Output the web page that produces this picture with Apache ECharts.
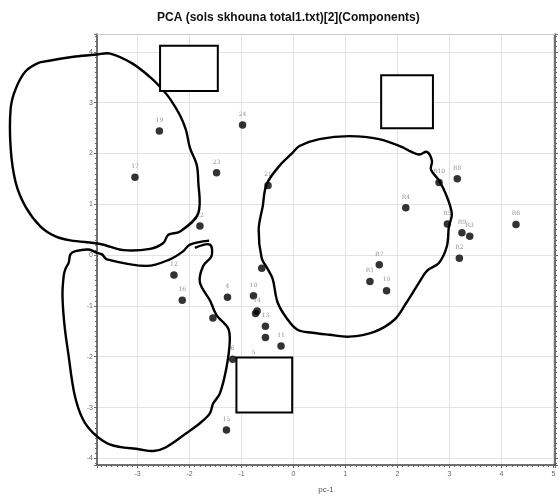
<!DOCTYPE html>
<html>
<head>
<meta charset="utf-8">
<script src="https://cdn.jsdelivr.net/npm/echarts@6/dist/echarts.min.js"></script>
<style>
  html, body { margin: 0; padding: 0; background: #fff; }
  #pca { width: 560px; height: 499px; }
</style>
</head>
<body>
<div id="pca"></div>
<script>
// sample scores on pc-1 / pc-2
var pointLabels = ['19','24','17','23','21','22','12','16','','4','10','14','','13','','11','7','6','5','15',
                   'R8','R10','R4','R5','R9','R3','R6','R2','R7','R1','10'];
var pc1 = [-2.58,-0.98,-3.05,-1.48,-0.49,-1.80,-2.30,-2.14,-0.61,-1.27,-0.77,-0.70,-0.73,-0.54,-0.54,-0.24,-1.55,-1.17,-0.77,-1.29,
           3.15,2.80,2.16,2.96,3.24,3.39,4.28,3.19,1.65,1.47,1.79];
var pc2 = [2.44,2.56,1.53,1.62,1.37,0.57,-0.39,-0.89,-0.26,-0.83,-0.80,-1.10,-1.15,-1.40,-1.62,-1.79,-1.24,-2.05,-2.13,-3.44,
           1.50,1.43,0.93,0.61,0.44,0.37,0.60,-0.06,-0.19,-0.52,-0.70];

// hand drawn annotations (data coords)
var loopTopLeft = [[-4.885,3.791],[-4.195,3.907],[-3.793,3.946],[-3.525,3.965],[-3.103,3.772],[-2.759,3.501],[-2.529,3.269],
  [-2.375,3.075],[-2.184,2.752],[-2.069,2.462],[-1.992,2.108],[-1.864,1.785],[-1.833,1.464],[-1.833,0.818],[-2.184,0.464],
  [-2.408,0.400],[-2.504,0.238],[-2.759,0.122],[-3.270,0.097],[-3.716,0.219],[-4.291,0.290],[-4.579,0.368],[-4.866,0.561],
  [-5.153,0.948],[-5.345,1.431],[-5.441,2.108],[-5.441,2.882],[-5.345,3.269],[-5.153,3.617],[-4.885,3.791]];
var loopBottomLeft = [[-1.623,0.284],[-1.992,0.207],[-2.121,0.077],[-2.375,-0.083],[-2.822,-0.213],[-3.588,-0.083],
  [-3.684,0.014],[-3.780,0.044],[-3.941,0.110],[-4.195,0.077],[-4.291,0.014],[-4.324,-0.149],[-4.387,-0.271],[-4.420,-0.406],
  [-4.444,-0.793],[-4.406,-1.373],[-4.330,-1.954],[-4.215,-2.727],[-4.061,-3.211],[-3.851,-3.501],[-3.525,-3.727],
  [-2.950,-3.824],[-2.695,-3.855],[-2.471,-3.791],[-2.056,-3.501],[-1.801,-3.308],[-1.609,-3.114],[-1.546,-2.921],
  [-1.418,-2.727],[-1.289,-2.211],[-1.226,-1.696],[-1.259,-1.437],[-1.481,-1.180],[-1.609,-0.890],[-1.801,-0.536],
  [-1.738,-0.213],[-1.577,-0.019],[-1.609,0.207],[-1.897,0.141]];
var loopRight = [[2.126,2.108],[2.414,1.979],[2.567,2.031],[2.663,1.857],[2.644,1.683],[2.797,1.470],[2.931,1.199],
  [3.046,0.812],[2.989,0.561],[2.950,0.174],[2.797,-0.155],[2.567,-0.309],[2.414,-0.542],[2.165,-0.948],[1.935,-1.277],
  [1.552,-1.509],[1.073,-1.605],[0.690,-1.567],[0.364,-1.528],[0.077,-1.470],[-0.134,-1.238],[-0.307,-0.928],
  [-0.402,-0.464],[-0.498,-0.271],[-0.613,-0.058],[-0.670,0.503],[-0.594,0.948],[-0.517,1.393],[-0.268,1.760],
  [-0.019,2.012],[0.115,2.147],[0.498,2.282],[1.073,2.340],[1.648,2.282],[2.126,2.108]];
var loops = [loopTopLeft, loopBottomLeft, loopRight];
var boxes = [[-2.567,4.120,-1.456,3.230],[1.686,3.540,2.682,2.495],[-1.098,-2.017,-0.025,-3.095]];

var xMin = -3.78, xMax = 5.03, yMin = -4.13, yMax = 4.35;

var chart = echarts.init(document.getElementById('pca'));

function intLabel(v) {
  return Math.abs(v - Math.round(v)) < 1e-6 ? String(Math.round(v)) : '';
}

var scatterData = pc1.map(function (x, i) { return [x, pc2[i], pointLabels[i]]; });

chart.setOption({
  animation: false,
  title: {
    text: 'PCA (sols skhouna total1.txt)[2](Components)',
    left: 152,
    top: 7,
    textStyle: { fontFamily: 'Liberation Sans', fontSize: 12, fontWeight: 'bold', color: '#111' }
  },
  grid: { left: 97, right: 5, top: 34, bottom: 27, containLabel: false },
  xAxis: [{
    type: 'value', min: xMin, max: xMax, minInterval: 1, maxInterval: 1,
    name: 'pc-1', nameLocation: 'middle', nameGap: 21,
    nameTextStyle: { fontSize: 8, color: '#555', fontFamily: 'Liberation Sans' },
    axisLine: { onZero: false, lineStyle: { color: '#444', width: 1.5 } },
    axisTick: { show: true, length: 3, lineStyle: { color: '#666' } },
    minorTick: { show: true, splitNumber: 10, length: 2, lineStyle: { color: '#666' } },
    axisLabel: { fontSize: 7, color: '#666', margin: 6, formatter: intLabel },
    splitLine: { lineStyle: { color: '#e3e3e3' } }
  }, {
    type: 'value', position: 'top', min: xMin, max: xMax, minInterval: 1, maxInterval: 1,
    axisLine: { onZero: false, lineStyle: { color: '#ccc', width: 1 } },
    axisTick: { show: false }, axisLabel: { show: false }, splitLine: { show: false }
  }],
  yAxis: [{
    type: 'value', min: yMin, max: yMax, minInterval: 1, maxInterval: 1,
    axisLine: { onZero: false, lineStyle: { color: '#444', width: 1.5 } },
    axisTick: { show: true, length: 3, lineStyle: { color: '#666' } },
    minorTick: { show: true, splitNumber: 10, length: 2, lineStyle: { color: '#666' } },
    axisLabel: { fontSize: 7, color: '#666', margin: 4, formatter: intLabel },
    splitLine: { lineStyle: { color: '#e3e3e3' } }
  }, {
    type: 'value', position: 'right', min: yMin, max: yMax, minInterval: 1, maxInterval: 1,
    axisLine: { show: true, onZero: false, lineStyle: { color: '#444', width: 1.5 } },
    axisTick: { show: true, length: 3, lineStyle: { color: '#666' } },
    minorTick: { show: true, splitNumber: 10, length: 2, lineStyle: { color: '#666' } },
    axisLabel: { show: false }, splitLine: { show: false }
  }],
  series: [
    {
      type: 'scatter',
      data: scatterData,
      symbolSize: 7.5,
      z: 3,
      itemStyle: { color: '#000' },
      label: {
        show: true,
        position: 'top',
        distance: 4,
        fontSize: 6,
        color: '#777',
        fontFamily: 'DejaVu Serif',
        formatter: function (p) { return p.data[2]; }
      }
    },
    {
      // freehand loops, drawn past the plot frame like the original marker strokes
      type: 'custom',
      data: loops.map(function (l, i) { return [i]; }),
      z: 5,
      clip: false,
      silent: true,
      renderItem: function (params, api) {
        var pts = loops[api.value(0)].map(function (p) { return api.coord(p); });
        return {
          type: 'polyline',
          shape: { points: pts, smooth: 0.35 },
          style: { fill: null, stroke: '#000', lineWidth: 2.4 }
        };
      }
    },
    {
      type: 'custom',
      data: boxes,
      z: 10,
      silent: true,
      renderItem: function (params, api) {
        var p1 = api.coord([api.value(0), api.value(1)]);
        var p2 = api.coord([api.value(2), api.value(3)]);
        return {
          type: 'rect',
          shape: { x: p1[0], y: p1[1], width: p2[0] - p1[0], height: p2[1] - p1[1] },
          style: { fill: '#fff', stroke: '#000', lineWidth: 2 }
        };
      }
    }
  ]
});
</script>
</body>
</html>
